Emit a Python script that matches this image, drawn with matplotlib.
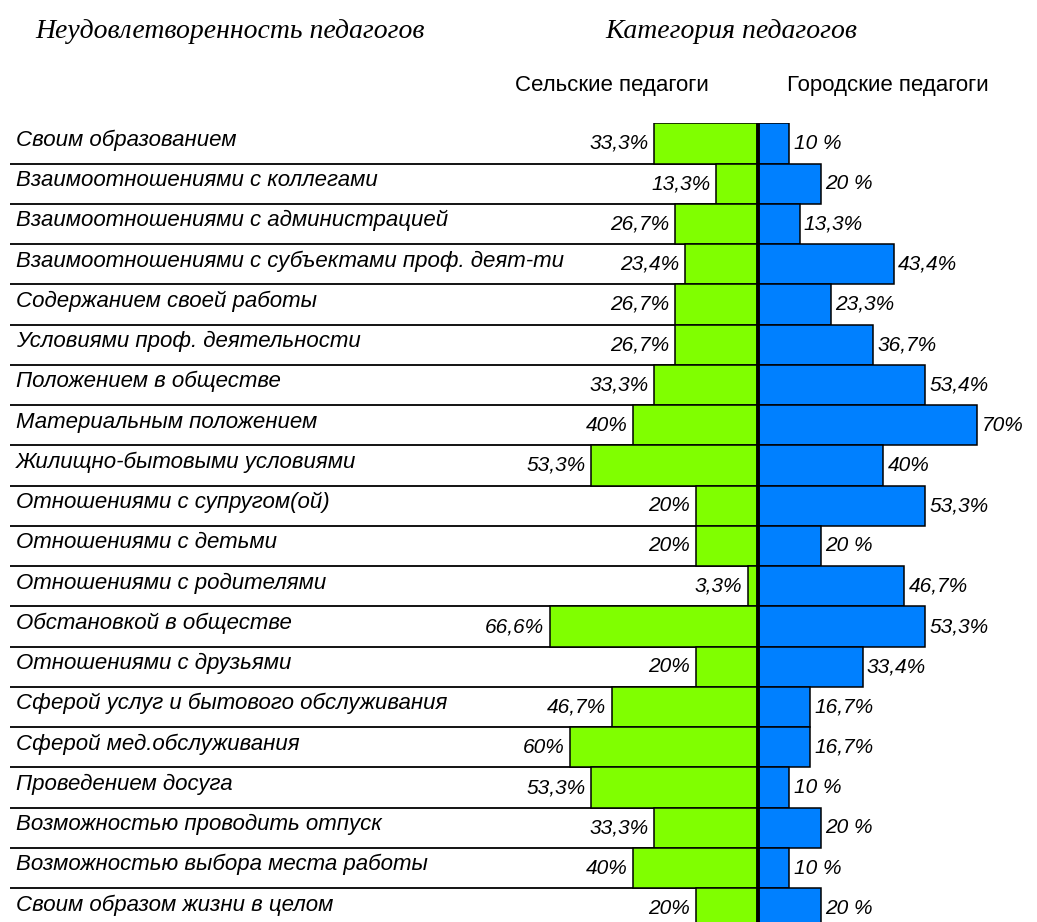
import numpy as np
import matplotlib.pyplot as plt

plt.rcParams['font.family'] = ['Liberation Sans', 'DejaVu Sans']

# Rows, top to bottom
categories = [
    'Своим образованием',
    'Взаимоотношениями с коллегами',
    'Взаимоотношениями с администрацией',
    'Взаимоотношениями с субъектами проф. деят-ти',
    'Содержанием своей работы',
    'Условиями проф. деятельности',
    'Положением в обществе',
    'Материальным положением',
    'Жилищно-бытовыми условиями',
    'Отношениями с супругом(ой)',
    'Отношениями с детьми',
    'Отношениями с родителями',
    'Обстановкой в обществе',
    'Отношениями с друзьями',
    'Сферой услуг и бытового обслуживания',
    'Сферой мед.обслуживания',
    'Проведением досуга',
    'Возможностью проводить отпуск',
    'Возможностью выбора места работы',
    'Своим образом жизни в целом',
]
rural = [33.3, 13.3, 26.7, 23.4, 26.7, 26.7, 33.3, 40, 53.3, 20,
         20, 3.3, 66.6, 20, 46.7, 60, 53.3, 33.3, 40, 20]
urban = [10, 20, 13.3, 43.4, 23.3, 36.7, 53.4, 70, 40, 53.3,
         20, 46.7, 53.3, 33.4, 16.7, 16.7, 10, 20, 10, 20]
rural_labels = ['33,3%', '13,3%', '26,7%', '23,4%', '26,7%', '26,7%', '33,3%', '40%',
                '53,3%', '20%', '20%', '3,3%', '66,6%', '20%', '46,7%', '60%',
                '53,3%', '33,3%', '40%', '20%']
urban_labels = ['10 %', '20 %', '13,3%', '43,4%', '23,3%', '36,7%', '53,4%', '70%',
                '40%', '53,3%', '20 %', '46,7%', '53,3%', '33,4%', '16,7%', '16,7%',
                '10 %', '20 %', '10 %', '20 %']

green = '#80ff00'
blue = '#0080ff'

fig = plt.figure(figsize=(10.37, 9.22), dpi=100)
ax = fig.add_axes([10 / 1037, 0, 1 - 10 / 1037, (922 - 123.3) / 922])

n = len(categories)
y = np.arange(n) + 0.5
xmin, xmax = -239, 89.1

ax.barh(y, [-v for v in rural], height=1.0, color=green, edgecolor='black', linewidth=1.1, zorder=2)
ax.barh(y, urban, height=1.0, color=blue, edgecolor='black', linewidth=1.1, zorder=2)

# row separators across the label area
ax.hlines(np.arange(1, n + 1), xmin, 0, colors='black', linewidth=1.3, zorder=1)
ax.axvline(0, color='black', linewidth=2.8, zorder=4)

for i in range(n):
    ax.text(xmin + 2, y[i] - 0.08, categories[i], ha='left', va='center',
            fontsize=16, style='italic', zorder=3)
    ax.annotate(rural_labels[i], (-rural[i], y[i]), xytext=(-4, 0), textcoords='offset points',
                ha='right', va='center', fontsize=15, style='italic', zorder=3)
    ax.annotate(urban_labels[i], (urban[i], y[i]), xytext=(3, 0), textcoords='offset points',
                ha='left', va='center', fontsize=15, style='italic', zorder=3)

ax.set_xlim(xmin, xmax)
ax.set_ylim(19.84, 0)
ax.axis('off')

fig.text(35 / 1037, 1 - 31 / 922, 'Неудовлетворенность педагогов', family='Liberation Serif',
         style='italic', fontsize=20, ha='left', va='center')
fig.text(605 / 1037, 1 - 31 / 922, 'Категория педагогов', family='Liberation Serif',
         style='italic', fontsize=20, ha='left', va='center')
fig.text(515 / 1037, 1 - 85 / 922, 'Сельские педагоги', fontsize=16, ha='left', va='center')
fig.text(787 / 1037, 1 - 85 / 922, 'Городские педагоги', fontsize=16, ha='left', va='center')

fig.savefig('out.png', dpi=100, facecolor='white')
